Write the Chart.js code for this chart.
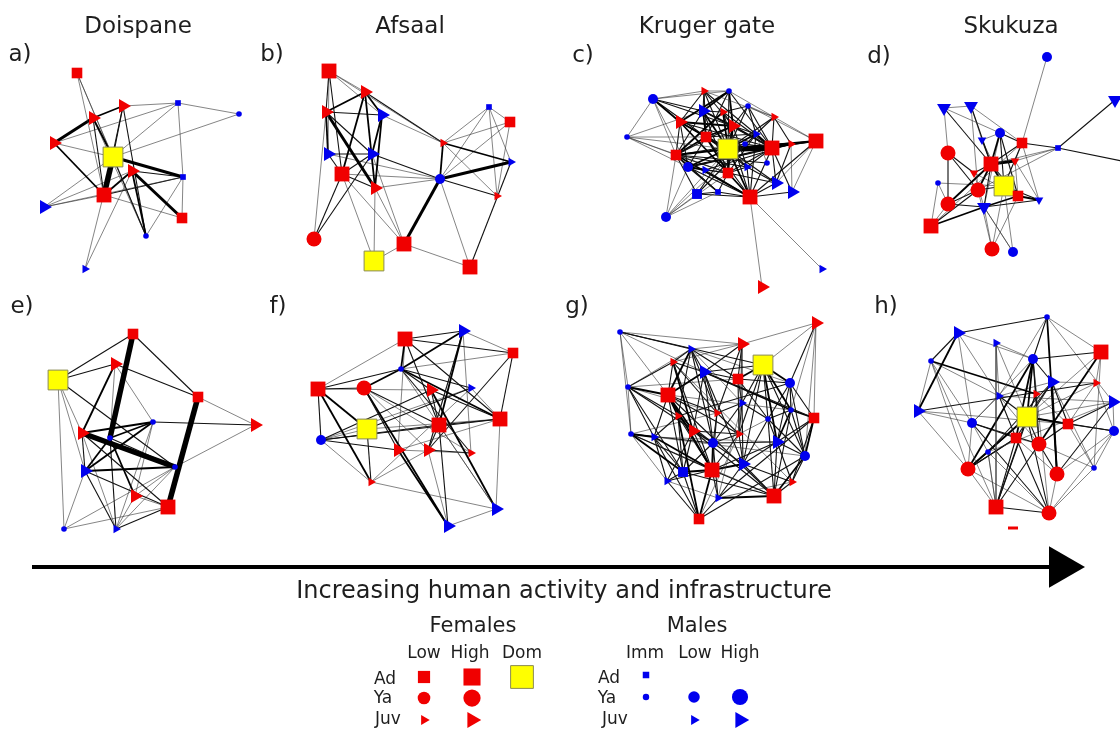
<!DOCTYPE html>
<html>
<head>
<meta charset="utf-8">
<script src="https://cdn.jsdelivr.net/npm/chart.js@4.4.0/dist/chart.umd.min.js"></script>
<style>
  html, body { margin: 0; padding: 0; background: #fff; }
  #wrap { position: relative; width: 1120px; height: 731px; overflow: hidden; }
  #c { position: absolute; left: 0; top: 0; }
  .lbl { position: absolute; transform: translate(-50%, -50%); white-space: nowrap;
         font-family: "DejaVu Sans", sans-serif; color: #1e1e1e; line-height: 1; }
</style>
</head>
<body>
<div id="wrap"><canvas id="c" width="1120" height="731"></canvas></div>
<script>
/* ---------- data: node layouts [x, y, class, orient] and weighted edges [from, to, weight] ---------- */
const nodesA = [[77,33,'fAdLow'],[123,66,'fJuvHigh'],[93,78,'fJuvHigh'],[54,103,'fJuvHigh'],[113,117,'dom'],
  [132,131,'fJuvHigh'],[104,155,'fAdHigh'],[44,167,'mJuvHigh'],[178,63,'mAdImm'],[239,74,'mYaImm'],
  [183,137,'mAdImm'],[182,178,'fAdLow'],[146,196,'mYaImm'],[85,229,'mJuvLow']];
const edgesA = [[1,5,1],[1,7,1],[2,3,3],[3,4,4],[2,9,1],[9,10,1],[2,5,2],[3,5,3],[5,7,5],[5,11,4],[6,12,4],
  [6,13,3],[5,13,2],[3,7,2],[4,7,3],[8,7,1],[8,6,1],[8,11,1],[7,11,2],[7,12,1],[9,11,1],[10,5,1],[14,6,1],
  [14,5,1],[13,11,1],[2,13,2],[3,13,1],[4,5,1],[7,6,3],[9,5,1],[4,9,1],[12,11,1],[8,5,1],[2,7,2],[1,13,1],[6,11,2]];

const nodesB = [[69,31,'fAdHigh'],[105,52,'fJuvHigh'],[66,72,'fJuvHigh'],[122,75,'mJuvHigh'],[229,67,'mAdImm'],
  [250,82,'fAdLow'],[183,103,'fJuvLow'],[68,114,'mJuvHigh'],[112,114,'mJuvHigh'],[251,122,'mJuvLow'],
  [82,134,'fAdHigh'],[180,139,'mYaLow'],[115,148,'fJuvHigh'],[237,156,'fJuvLow'],[54,199,'fYaHigh'],
  [114,221,'dom'],[144,204,'fAdHigh'],[210,227,'fAdHigh']];
const edgesB = [[1,2,1],[1,3,2],[1,11,2],[1,8,1],[1,7,1],[2,3,3],[2,11,3],[2,13,3],[2,4,3],[3,8,3],[3,13,4],
  [3,4,2],[4,9,3],[4,13,3],[8,9,2],[8,11,2],[9,11,2],[4,7,1],[2,7,2],[7,12,3],[7,10,3],[7,5,1],[7,6,1],
  [12,10,4],[12,14,2],[12,17,4],[12,18,1],[10,18,2],[5,14,1],[5,12,1],[6,12,1],[6,14,1],[11,15,2],[9,15,2],
  [3,15,1],[16,13,1],[16,11,1],[17,11,1],[17,9,1],[17,18,1],[16,17,1],[13,12,1],[9,12,2],[8,12,1],[14,7,1],
  [11,13,2],[5,6,1],[5,10,1],[9,3,2],[1,4,1],[11,12,1],[13,17,1]];

const nodesC = [[83,59,'mYaLow'],[134,51,'fJuvLow'],[159,51,'mYaImm'],[133,71,'mJuvHigh'],[153,72,'fJuvLow'],
  [178,66,'mYaImm'],[110,82,'fJuvHigh'],[204,77,'fJuvLow'],[163,86,'fJuvHigh'],[57,97,'mYaImm'],
  [136,97,'fAdLow'],[186,94,'mJuvLow'],[158,109,'dom'],[202,108,'fAdHigh'],[221,104,'fJuvLow'],
  [246,101,'fAdHigh'],[106,115,'fAdLow'],[118,127,'mYaLow'],[135,130,'mJuvLow'],[158,133,'fAdLow'],
  [175,104,'mYaImm'],[177,127,'mJuvLow'],[206,143,'mJuvHigh'],[222,152,'mJuvHigh'],[127,154,'mAdLow'],
  [148,152,'mAdImm'],[180,157,'fAdHigh'],[96,177,'mYaLow'],[252,229,'mJuvLow'],[192,247,'fJuvHigh'],
  [197,123,'mYaImm']];
const edgesC = [[1,10,1],[1,7,3],[1,2,1],[1,17,1],[1,9,2],[10,17,1],[10,18,1],[10,11,1],[10,13,1],[2,3,1],
  [2,4,2],[2,9,2],[2,12,2],[2,8,1],[3,4,3],[3,7,3],[3,9,3],[3,14,2],[3,8,1],[4,5,2],[4,13,3],[4,20,2],
  [4,14,2],[5,6,2],[5,13,3],[5,17,3],[5,27,2],[6,9,2],[6,13,2],[6,16,1],[6,8,1],[7,11,3],[7,13,2],[7,20,3],
  [7,17,2],[7,14,2],[8,14,2],[8,16,1],[8,13,2],[9,11,3],[9,13,3],[9,14,3],[9,17,2],[9,22,2],[11,13,4],
  [11,20,3],[11,12,2],[11,27,2],[12,13,3],[12,14,3],[12,25,2],[13,14,5],[13,15,4],[13,16,3],[13,17,3],
  [13,18,3],[13,20,3],[13,27,3],[13,22,2],[13,23,2],[13,25,2],[14,15,3],[14,16,2],[14,27,2],[14,24,2],
  [14,18,2],[15,16,3],[15,23,2],[16,24,1],[16,27,2],[17,18,2],[17,27,3],[17,25,2],[17,22,2],[18,19,3],
  [18,14,3],[18,26,2],[18,28,1],[19,27,2],[19,15,2],[20,27,3],[20,23,2],[21,17,2],[21,28,1],[22,27,2],
  [23,27,2],[24,27,2],[25,27,2],[25,28,1],[26,27,2],[26,17,2],[28,17,1],[28,13,1],[27,29,1],[27,30,1],
  [31,17,2],[31,12,1],[1,3,1],[10,20,1],[1,4,2],[1,11,2],[1,18,1],[2,7,2],[2,11,2],[2,13,2],[3,13,2],
  [3,11,2],[4,9,3],[4,17,2],[4,11,3],[5,9,2],[5,14,2],[6,14,2],[6,12,2],[7,9,3],[7,18,2],[8,12,2],[8,15,2],
  [9,20,3],[9,12,2],[11,17,3],[11,18,2],[11,22,2],[12,20,2],[12,27,2],[14,20,2],[14,22,2],[14,23,2],
  [15,24,1],[16,23,1],[17,20,2],[17,26,2],[18,20,2],[18,27,2],[19,20,2],[20,22,2],[20,26,2],[21,13,2],
  [21,14,2],[22,23,2],[25,26,2],[10,4,1],[28,26,1],[28,20,1]];

const nodesD = [[187,17,'mYaLow'],[84,68,'mJuvHigh','d'],[111,66,'mJuvHigh','d'],[255,60,'mJuvHigh','d'],
  [140,93,'mYaLow'],[122,100,'mJuvLow','d'],[162,103,'fAdLow'],[198,108,'mAdImm'],[88,113,'fYaHigh'],
  [131,124,'fAdHigh'],[155,121,'fJuvLow','d'],[114,133,'fJuvLow','d'],[78,143,'mYaImm'],[144,146,'dom'],
  [118,150,'fYaHigh'],[158,156,'fAdLow'],[179,160,'mJuvLow','d'],[88,164,'fYaHigh'],[124,167,'mJuvHigh','d'],
  [71,186,'fAdHigh'],[132,209,'fYaHigh'],[153,212,'mYaLow'],[272,123,'hidden']];
const edgesD = [[1,7,1],[2,3,1],[2,9,1],[2,10,2],[2,5,1],[3,10,2],[3,15,1],[3,7,1],[3,6,1],[4,8,2],[8,23,2],
  [7,8,2],[5,7,2],[5,10,3],[5,14,2],[5,16,2],[5,6,1],[6,10,2],[7,10,2],[7,14,2],[7,20,1],[7,11,1],[7,17,1],
  [8,10,1],[8,11,1],[8,15,1],[9,12,2],[9,18,1],[9,15,2],[10,11,4],[10,14,3],[10,15,3],[10,18,3],[10,19,2],
  [10,12,2],[10,16,2],[11,16,1],[12,19,1],[13,14,1],[13,18,1],[13,20,1],[14,15,2],[14,16,2],[14,17,2],
  [14,21,1],[14,22,1],[15,18,2],[15,20,2],[16,19,3],[16,17,3],[17,19,2],[18,19,2],[18,20,1],[19,20,3],
  [19,21,1],[19,22,1],[21,15,1],[16,21,1],[22,19,1],[6,14,1],[11,17,1],[12,16,1],[5,19,1]];

const nodesE = [[133,34,'fAdLow'],[115,64,'fJuvHigh'],[58,80,'dom'],[198,97,'fAdLow'],[153,122,'mYaImm'],
  [255,125,'fJuvHigh'],[82,133,'fJuvHigh'],[110,138,'mYaImm'],[175,167,'mYaImm'],[85,171,'mJuvHigh'],
  [135,196,'fJuvHigh'],[168,207,'fAdHigh'],[64,229,'mYaImm'],[116,229,'mJuvLow']];
const edgesE = [[1,8,5],[4,12,5],[7,9,5],[7,2,3],[7,5,3],[8,5,3],[10,5,3],[10,9,3],[8,11,3],[8,14,2],[3,1,2],
  [3,2,2],[3,9,2],[3,10,1],[3,13,1],[3,7,1],[1,4,2],[2,4,2],[4,6,1],[5,6,2],[9,6,1],[10,12,2],[10,14,2],
  [11,12,1],[13,12,1],[9,14,1],[12,14,2],[7,10,2],[7,12,2],[10,8,3],[5,11,1],[13,9,1],[2,5,1],[8,9,2],
  [10,13,1],[11,14,1],[9,11,1],[5,14,1],[2,8,1],[7,14,1]];

const nodesF = [[135,39,'fAdHigh'],[193,31,'mJuvHigh'],[243,53,'fAdLow'],[131,69,'mYaImm'],[48,89,'fAdHigh'],
  [94,88,'fYaHigh'],[161,90,'fJuvHigh'],[201,88,'mJuvLow'],[230,119,'fAdHigh'],[97,129,'dom'],
  [169,125,'fAdHigh'],[51,140,'mYaLow'],[128,150,'fJuvHigh'],[158,150,'fJuvHigh'],[201,153,'fJuvLow'],
  [101,182,'fJuvLow'],[226,209,'mJuvHigh'],[178,226,'mJuvHigh']];
const edgesF = [[1,2,2],[1,3,2],[1,4,3],[1,5,1],[1,11,2],[1,9,2],[1,13,1],[2,3,1],[2,4,3],[2,11,3],[2,14,2],
  [2,15,1],[3,4,1],[3,9,2],[3,14,2],[4,5,2],[4,6,3],[4,9,3],[4,8,2],[4,15,2],[4,17,1],[5,6,2],[5,10,3],
  [5,12,2],[5,16,3],[5,7,1],[6,13,2],[6,18,3],[6,11,2],[6,15,1],[7,11,2],[7,17,3],[7,12,2],[7,9,2],[8,9,1],
  [8,10,2],[8,16,1],[9,11,2],[9,12,2],[9,17,1],[9,13,1],[10,12,1],[10,16,2],[10,9,1],[11,12,2],[11,14,2],
  [11,18,2],[11,17,1],[12,13,2],[12,16,1],[13,18,3],[13,15,1],[14,15,2],[14,18,1],[16,17,1],[16,14,1],
  [17,18,1],[12,8,1],[6,14,1],[4,7,2]];

const nodesG = [[50,32,'mYaImm'],[246,23,'fJuvHigh'],[121,49,'mJuvLow'],[172,44,'fJuvHigh'],[103,62,'fJuvLow'],
  [193,65,'dom'],[134,72,'mJuvHigh'],[168,79,'fAdLow'],[220,83,'mYaLow'],[58,87,'mYaImm'],[98,95,'fAdHigh'],
  [172,103,'mJuvLow'],[221,110,'mYaImm'],[108,116,'fJuvLow'],[147,113,'fJuvLow'],[198,119,'mYaImm'],
  [244,118,'fAdLow'],[123,131,'fJuvHigh'],[61,134,'mYaImm'],[84,137,'mJuvLow'],[169,134,'fJuvLow'],
  [143,143,'mYaLow'],[207,142,'mJuvHigh'],[235,156,'mYaLow'],[173,164,'mJuvHigh'],[113,172,'mAdLow'],
  [142,170,'fAdHigh'],[97,181,'mJuvLow'],[222,182,'fJuvLow'],[204,196,'fAdHigh'],[148,198,'mJuvLow'],
  [129,219,'fAdLow']];
const edgesG = [[1,3,2],[1,10,1],[1,19,1],[1,6,2],[1,11,1],[2,4,1],[2,9,2],[2,17,1],[2,6,1],[3,4,1],[3,7,2],
  [3,11,3],[3,8,2],[3,14,2],[3,22,2],[3,12,1],[4,8,2],[4,12,2],[4,21,1],[4,5,1],[5,7,2],[5,11,2],[5,27,2],
  [5,18,3],[6,8,3],[6,9,3],[6,13,3],[6,16,2],[6,23,3],[6,24,2],[6,12,2],[7,8,2],[7,11,3],[7,22,2],[7,25,2],
  [7,17,2],[7,13,3],[8,9,2],[8,12,2],[8,21,2],[8,10,1],[9,13,2],[9,17,2],[9,16,2],[9,14,2],[10,11,3],
  [10,14,2],[10,19,1],[10,22,2],[10,3,1],[11,14,3],[11,18,3],[11,27,3],[11,26,2],[11,21,2],[11,13,1],
  [12,15,2],[12,22,2],[12,25,2],[12,16,2],[12,31,1],[13,17,3],[13,16,2],[13,23,3],[13,30,2],[14,18,2],
  [14,20,2],[14,32,3],[14,22,2],[15,19,1],[15,21,2],[15,27,2],[15,10,1],[16,23,2],[16,25,2],[16,21,1],
  [16,30,2],[17,23,2],[17,24,3],[17,29,2],[17,31,2],[18,22,2],[18,26,2],[18,28,2],[18,21,2],[19,20,3],
  [19,26,3],[19,27,2],[19,28,1],[19,24,1],[20,27,3],[20,32,2],[20,23,1],[21,22,2],[21,25,2],[21,32,1],
  [22,27,3],[22,23,2],[22,31,2],[23,24,2],[23,30,2],[23,27,2],[24,29,2],[24,30,3],[24,32,2],[25,27,3],
  [25,30,2],[25,29,2],[26,27,3],[26,28,2],[26,30,2],[26,32,2],[27,31,2],[27,30,2],[28,32,2],[28,31,1],
  [29,30,2],[30,31,3],[31,32,2],[1,4,1],[3,9,1],[10,26,2],[18,30,2],[11,30,2],[19,30,1],[5,29,1],
  [2,13,1],[2,24,1],[3,5,2],[3,15,2],[4,7,2],[4,15,2],[5,15,2],[5,10,2],[6,7,2],[6,21,2],[6,25,2],[7,15,2],
  [7,18,2],[8,16,2],[9,23,2],[9,24,2],[11,15,2],[11,20,2],[12,21,2],[13,24,2],[14,27,2],[14,26,2],[15,22,2],
  [16,24,2],[18,27,2],[19,22,2],[20,26,2],[20,28,2],[21,27,2],[22,26,2],[22,25,2],[23,25,2],[23,29,2],
  [25,31,2],[27,32,3],[28,27,2],[29,31,1],[10,20,2],[13,9,1],[1,7,1]];

const nodesH = [[187,17,'mYaImm'],[98,33,'mJuvHigh'],[136,43,'mJuvLow'],[241,52,'fAdHigh'],[71,61,'mYaImm'],
  [173,59,'mYaLow'],[192,82,'mJuvHigh'],[236,83,'fJuvLow'],[176,94,'fJuvLow'],[139,96,'mJuvLow'],
  [58,111,'mJuvHigh'],[253,102,'mJuvHigh'],[167,117,'dom'],[208,124,'fAdLow'],[112,123,'mYaLow'],
  [254,131,'mYaLow'],[156,138,'fAdLow'],[179,144,'fYaHigh'],[128,152,'mYaImm'],[108,169,'fYaHigh'],
  [234,168,'mYaImm'],[197,174,'fYaHigh'],[136,207,'fAdHigh'],[189,213,'fYaHigh'],[153,228,'dash']];
const edgesH = [[1,2,2],[1,6,2],[1,4,1],[1,22,3],[1,12,1],[1,10,1],[2,11,3],[2,15,1],[2,10,1],[3,10,1],[3,6,1],
  [3,23,1],[3,13,1],[4,6,2],[4,8,1],[4,18,3],[4,21,1],[4,13,1],[5,9,3],[5,20,1],[5,15,1],[5,10,1],[5,23,1],
  [6,7,2],[6,13,3],[6,17,3],[6,20,3],[6,18,2],[6,24,1],[7,21,1],[7,19,2],[7,22,3],[7,14,2],[7,8,1],[7,10,1],
  [8,11,2],[8,16,1],[8,14,1],[9,23,2],[9,18,2],[9,14,1],[10,15,1],[10,17,2],[10,13,2],[10,12,1],[11,14,1],
  [11,15,1],[11,20,1],[12,13,1],[12,22,2],[12,19,1],[12,16,1],[13,14,3],[13,16,2],[13,20,3],[13,18,2],
  [13,24,2],[13,19,2],[14,16,2],[14,21,1],[14,18,2],[15,17,2],[15,18,2],[15,24,2],[15,19,1],[16,22,1],
  [16,21,1],[17,24,2],[17,20,2],[17,18,1],[18,23,2],[18,21,1],[19,20,2],[19,24,1],[20,23,1],[20,17,2],
  [21,24,1],[22,24,1],[22,17,1],[23,24,2],[23,19,1],[2,6,1],[13,23,2],[16,24,1],[2,5,2],[5,11,1],[6,15,1],
  [6,9,2],[7,13,2],[7,17,2],[9,13,2],[10,18,1],[12,14,2],[15,20,1],[17,23,2],[18,22,2],[19,23,1],[20,24,1],
  [8,13,1]];

// legend key: [class, column, row]
const femaleKey = [['fAdLow',0,0],['fAdHigh',1,0],['dom',2,0],['fYaLow',0,1],['fYaHigh',1,1],['fJuvLow',0,2],['fJuvHigh',1,2]];
const maleKey = [['mAdImm',0,0],['mYaImm',0,1],['mYaLow',1,1],['mYaHigh',2,1],['mJuvLow',1,2],['mJuvHigh',2,2]];

const siteNames = ['Doispane', 'Afsaal', 'Kruger gate', 'Skukuza'];
const panelTags = ['a)', 'b)', 'c)', 'd)', 'e)', 'f)', 'g)', 'h)'];
const axisText = 'Increasing human activity and infrastructure';

/* ---------- layout & styles ---------- */
const RED = '#f00000', BLUE = '#0000ee';
const STYLE = {
  fAdLow:   { shape: 'rect', r: 7.5, c: RED },
  fAdHigh:  { shape: 'rect', r: 10.5, c: RED },
  dom:      { shape: 'rect', r: 14, c: '#ffff00', b: '#8a8a55' },
  fYaLow:   { shape: 'circle', r: 5.5, c: RED },
  fYaHigh:  { shape: 'circle', r: 7.5, c: RED },
  fJuvLow:  { shape: 'triangle', r: 5, c: RED },
  fJuvHigh: { shape: 'triangle', r: 8, c: RED },
  mAdImm:   { shape: 'rect', r: 4, c: BLUE },
  mAdLow:   { shape: 'rect', r: 7, c: BLUE },
  mYaImm:   { shape: 'circle', r: 2.8, c: BLUE },
  mYaLow:   { shape: 'circle', r: 5, c: BLUE },
  mYaHigh:  { shape: 'circle', r: 7, c: BLUE },
  mJuvLow:  { shape: 'triangle', r: 5, c: BLUE },
  mJuvHigh: { shape: 'triangle', r: 8, c: BLUE },
  dash:     { shape: 'line', r: 5, c: RED, b: RED, bw: 3 },
  hidden:   { shape: 'circle', r: 0, c: 'rgba(0,0,0,0)' }
};
const KEY_SCALE = 1.15;
const WIDTH = { 1: 0.6, 2: 1.1, 3: 1.8, 4: 3, 5: 5.5 };
const EDGE_COLOR = { 1: '#333', 2: '#111', 3: '#000', 4: '#000', 5: '#000' };

const panels = [
  { nodes: nodesA, edges: edgesA, ox: 0,   oy: 40 },
  { nodes: nodesB, edges: edgesB, ox: 260, oy: 40 },
  { nodes: nodesC, edges: edgesC, ox: 570, oy: 40 },
  { nodes: nodesD, edges: edgesD, ox: 860, oy: 40 },
  { nodes: nodesE, edges: edgesE, ox: 0,   oy: 300 },
  { nodes: nodesF, edges: edgesF, ox: 270, oy: 300 },
  { nodes: nodesG, edges: edgesG, ox: 570, oy: 300 },
  { nodes: nodesH, edges: edgesH, ox: 860, oy: 300 }
];
const titlePos = [[138, 25], [410, 25], [707, 25], [1011, 25]];
const tagPos = [[20, 53], [272, 53], [583, 54], [879, 55], [22, 305], [278, 305], [577, 305], [886, 305]];
const femaleGrid = { x: [424, 472, 522], y: [677, 698, 720] };
const maleGrid = { x: [646, 694, 740], y: [675, 697, 720] };

/* ---------- build datasets ---------- */
const datasets = [];
const groups = {};
function addNode(cls, x, y, orient, key) {
  const id = cls + (key ? ':key' : '');
  if (!groups[id]) groups[id] = { cls, scale: key ? KEY_SCALE : 1, pts: [] };
  const rot = STYLE[cls].shape === 'triangle' ? (orient === 'd' ? 180 : 90) : 0;
  groups[id].pts.push({ x, y, rot });
}

panels.forEach(p => {
  p.edges.forEach(([a, b, w]) => {
    const n1 = p.nodes[a - 1], n2 = p.nodes[b - 1];
    datasets.push({
      type: 'line', order: 3,
      data: [{ x: p.ox + n1[0], y: p.oy + n1[1] }, { x: p.ox + n2[0], y: p.oy + n2[1] }],
      borderColor: EDGE_COLOR[w], borderWidth: WIDTH[w], pointRadius: 0, tension: 0
    });
  });
  p.nodes.forEach(n => addNode(n[2], p.ox + n[0], p.oy + n[1], n[3], false));
});
femaleKey.forEach(([cls, c, r]) => addNode(cls, femaleGrid.x[c], femaleGrid.y[r], null, true));
maleKey.forEach(([cls, c, r]) => addNode(cls, maleGrid.x[c], maleGrid.y[r], null, true));

Object.values(groups).forEach(g => {
  const s = STYLE[g.cls];
  datasets.push({
    type: 'scatter', order: 1, data: g.pts,
    pointStyle: s.shape, pointRadius: s.r * g.scale,
    pointRotation: ctx => (ctx.raw ? ctx.raw.rot : 0),
    pointBackgroundColor: s.c,
    pointBorderColor: s.b || s.c,
    pointBorderWidth: s.bw || (s.b ? 1 : 0)
  });
});

// gradient arrow along the bottom
datasets.push({
  type: 'line', order: 2, data: [{ x: 32, y: 567 }, { x: 1052, y: 567 }],
  borderColor: '#000', borderWidth: 4, pointRadius: 0
});
datasets.push({
  type: 'scatter', order: 2, data: [{ x: 1061, y: 567 }],
  pointStyle: 'triangle', pointRotation: 90, pointRadius: 24,
  pointBackgroundColor: '#000', pointBorderColor: '#000', pointBorderWidth: 0
});

new Chart(document.getElementById('c'), {
  type: 'scatter',
  data: { datasets },
  options: {
    responsive: false, animation: false, devicePixelRatio: 1,
    layout: { padding: 0, autoPadding: false },
    events: [],
    plugins: { legend: { display: false }, tooltip: { enabled: false } },
    scales: {
      x: { type: 'linear', min: 0, max: 1120, display: false },
      y: { type: 'linear', min: 0, max: 731, reverse: true, display: false }
    }
  }
});

/* ---------- text ---------- */
const wrap = document.getElementById('wrap');
function text(str, x, y, size) {
  const d = document.createElement('div');
  d.className = 'lbl';
  d.textContent = str;
  d.style.left = x + 'px';
  d.style.top = y + 'px';
  d.style.fontSize = size + 'px';
  wrap.appendChild(d);
}
siteNames.forEach((s, i) => text(s, titlePos[i][0], titlePos[i][1], 23));
panelTags.forEach((s, i) => text(s, tagPos[i][0], tagPos[i][1], 23));
text(axisText, 564, 590, 24);
text('Females', 473, 625, 21);
['Low', 'High', 'Dom'].forEach((s, i) => text(s, [424, 470, 522][i], 652, 17));
['Ad', 'Ya', 'Juv'].forEach((s, i) => text(s, [385, 383, 388][i], [678, 697, 718][i], 17));
text('Males', 697, 625, 21);
['Imm', 'Low', 'High'].forEach((s, i) => text(s, [645, 695, 740][i], 652, 17));
['Ad', 'Ya', 'Juv'].forEach((s, i) => text(s, [609, 607, 615][i], [677, 697, 718][i], 17));
</script>
</body>
</html>
